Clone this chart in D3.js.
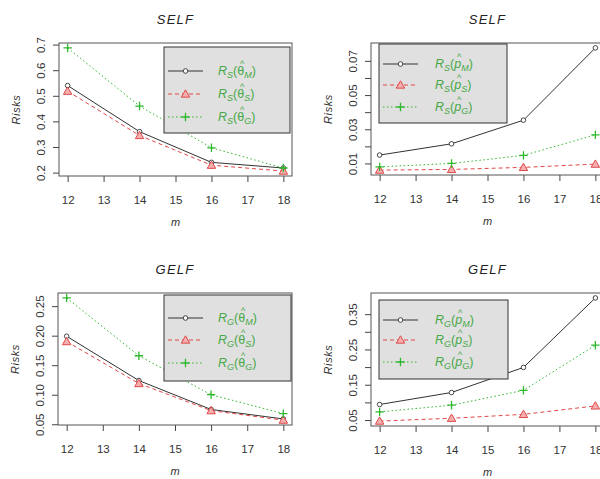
<!DOCTYPE html>
<head>
  <meta charset="utf-8">
  <script src="https://d3js.org/d3.v7.min.js"></script>
  <style>
    body { margin: 0; background: #fff; }
    svg { font-family: "Liberation Sans", Arial, sans-serif; }
    .tick text { fill: #333; font-size: 11.5px; }
    .tick line, .domain { stroke: #444; }
  </style>
</head>
<body>
  <svg width="600" height="479"></svg>
  <script>
    // m values on the x axis
    var mVals = [12, 14, 16, 18];
    var xTicks = [12, 13, 14, 15, 16, 17, 18];

    // SELF, theta estimators
    var selfThetaM = [0.540, 0.360, 0.240, 0.218];
    var selfThetaS = [0.518, 0.345, 0.229, 0.206];
    var selfThetaG = [0.687, 0.460, 0.297, 0.218];
    // SELF, p estimators
    var selfPM = [0.0149, 0.0215, 0.0353, 0.0776];
    var selfPS = [0.0061, 0.0065, 0.0077, 0.0096];
    var selfPG = [0.0080, 0.0100, 0.0147, 0.0267];
    // GELF, theta estimators
    var gelfThetaM = [0.199, 0.124, 0.075, 0.059];
    var gelfThetaS = [0.190, 0.119, 0.073, 0.057];
    var gelfThetaG = [0.264, 0.166, 0.100, 0.068];
    // GELF, p estimators
    var gelfPM = [0.094, 0.128, 0.199, 0.396];
    var gelfPS = [0.047, 0.055, 0.066, 0.090];
    var gelfPG = [0.073, 0.092, 0.134, 0.262];

    // y ticks and their labels (R drops some labels)
    var ticksSelfTheta = [0.2, 0.3, 0.4, 0.5, 0.6, 0.7];
    var labelsSelfTheta = ['0.2', '0.3', '0.4', '0.5', '0.6', '0.7'];
    var ticksSelfP = [0.01, 0.02, 0.03, 0.04, 0.05, 0.06, 0.07];
    var labelsSelfP = ['0.01', '', '0.03', '', '0.05', '', '0.07'];
    var ticksGelfTheta = [0.05, 0.10, 0.15, 0.20, 0.25];
    var labelsGelfTheta = ['0.05', '0.10', '0.15', '0.20', '0.25'];
    var ticksGelfP = [0.05, 0.10, 0.15, 0.20, 0.25, 0.30, 0.35];
    var labelsGelfP = ['0.05', '', '0.15', '', '0.25', '', '0.35'];

    var estimators = ['M', 'S', 'G'];

    var black = '#333', red = '#e04848', green = '#2eb82e', textGreen = '#46a846';

    var svg = d3.select('svg');
    svg.append('rect').attr('width', 600).attr('height', 479).attr('fill', '#fff');

    var panels = [
      {title: 'SELF', risk: 'S', sym: 'θ', series: [selfThetaM, selfThetaS, selfThetaG],
        ticks: ticksSelfTheta, labels: labelsSelfTheta,
        box: [59, 43, 233, 133], legend: [105, 4, 126, 86], rows: [24, 47, 70], tx: 54},
      {title: 'SELF', risk: 'S', sym: 'p', series: [selfPM, selfPS, selfPG],
        ticks: ticksSelfP, labels: labelsSelfP,
        box: [371, 43, 233, 132], legend: [8, 1, 128, 79], rows: [20, 41, 63], tx: 56},
      {title: 'GELF', risk: 'G', sym: 'θ', series: [gelfThetaM, gelfThetaS, gelfThetaG],
        ticks: ticksGelfTheta, labels: labelsGelfTheta,
        box: [58, 293, 234, 132], legend: [106, 2, 127, 86], rows: [23, 45, 68], tx: 54},
      {title: 'GELF', risk: 'G', sym: 'p', series: [gelfPM, gelfPS, gelfPG],
        ticks: ticksGelfP, labels: labelsGelfP,
        box: [371, 293, 233, 133], legend: [8, 7, 129, 79], rows: [20, 40, 62], tx: 56}
    ];

    var styles = [
      {color: black, dash: null, marker: 'circle'},
      {color: red, dash: '4,3', marker: 'triangle'},
      {color: green, dash: '1.5,2.5', marker: 'plus'}
    ];

    function drawMarker(g, type, x, y) {
      if (type === 'circle') {
        g.append('circle').attr('cx', x).attr('cy', y).attr('r', 2.3)
          .attr('fill', '#fff').attr('stroke', black).attr('stroke-width', 0.9);
      } else if (type === 'triangle') {
        var s = 4.2;
        g.append('path')
          .attr('d', 'M' + x + ',' + (y - s) + 'L' + (x + s) + ',' + (y + s * 0.75) +
            'L' + (x - s) + ',' + (y + s * 0.75) + 'Z')
          .attr('fill', '#f4b0b0').attr('stroke', red).attr('stroke-width', 1);
      } else {
        var p = 4.2;
        g.append('path')
          .attr('d', 'M' + (x - p) + ',' + y + 'H' + (x + p) + 'M' + x + ',' + (y - p) + 'V' + (y + p))
          .attr('stroke', green).attr('stroke-width', 1.3);
      }
    }

    panels.forEach(function(pn) {
      var bx = pn.box[0], by = pn.box[1], bw = pn.box[2], bh = pn.box[3];
      var g = svg.append('g').attr('transform', 'translate(' + [bx, by] + ')');

      // R style 4% extension of the ranges
      var all = d3.merge(pn.series);
      var ext = d3.extent(all), pad = (ext[1] - ext[0]) * 0.04;
      var x = d3.scaleLinear().domain([11.76, 18.24]).range([0, bw]);
      var y = d3.scaleLinear().domain([ext[0] - pad, ext[1] + pad]).range([bh, 0]);

      g.append('g').attr('transform', 'translate(0,' + bh + ')')
        .call(d3.axisBottom(x).tickValues(xTicks).tickSize(6).tickSizeOuter(0)
          .tickPadding(14).tickFormat(d3.format('d')));

      var ya = g.append('g')
        .call(d3.axisLeft(y).tickValues(pn.ticks).tickSize(6).tickSizeOuter(0)
          .tickFormat(function(d, i) { return pn.labels[i]; }));
      ya.selectAll('.tick text')
        .attr('transform', 'rotate(-90)')
        .attr('x', 0).attr('y', -14).attr('dy', 0)
        .style('text-anchor', 'middle');
      g.selectAll('.domain').remove();

      // series
      pn.series.forEach(function(vals, si) {
        var st = styles[si];
        var line = d3.line().x(function(d, i) { return x(mVals[i]); }).y(function(d) { return y(d); });
        g.append('path').datum(vals).attr('d', line)
          .attr('fill', 'none').attr('stroke', st.color).attr('stroke-width', 1)
          .attr('stroke-dasharray', st.dash);
        vals.forEach(function(v, i) { drawMarker(g, st.marker, x(mVals[i]), y(v)); });
      });

      g.append('rect').attr('width', bw).attr('height', bh)
        .attr('fill', 'none').attr('stroke', '#555').attr('stroke-width', 1);

      // legend
      var lg = g.append('g').attr('transform', 'translate(' + [pn.legend[0], pn.legend[1]] + ')');
      lg.append('rect').attr('width', pn.legend[2]).attr('height', pn.legend[3])
        .attr('fill', '#e0e0e0').attr('stroke', '#333').attr('stroke-width', 1);
      pn.rows.forEach(function(ry, si) {
        var st = styles[si];
        lg.append('line').attr('x1', 4).attr('x2', 39).attr('y1', ry).attr('y2', ry)
          .attr('stroke', st.color).attr('stroke-dasharray', st.dash);
        drawMarker(lg, st.marker, 21.5, ry);
        var t = lg.append('text').attr('x', pn.tx).attr('y', ry + 4)
          .attr('fill', textGreen).style('font-size', '12.5px');
        t.append('tspan').style('font-style', 'italic').text('R');
        t.append('tspan').style('font-style', 'italic').style('font-size', '9px').attr('dy', 2.5).text(pn.risk);
        t.append('tspan').attr('dy', -2.5).text('(');
        t.append('tspan').style('font-style', pn.sym === 'p' ? 'italic' : 'normal').text(pn.sym);
        t.append('tspan').style('font-style', 'italic').style('font-size', '9px').attr('dy', 2.5).text(estimators[si]);
        t.append('tspan').attr('dy', -2.5).text(')');
        var e = t.node().getExtentOfChar(3);
        lg.append('text').attr('x', e.x + e.width / 2 + 1.5).attr('y', e.y + 3)
          .attr('text-anchor', 'middle').attr('fill', textGreen).style('font-size', '9px').text('^');
      });

      // titles and axis labels
      g.append('text').attr('x', bw / 2).attr('y', -19).attr('text-anchor', 'middle')
        .style('font-size', '13px').style('font-style', 'italic').style('letter-spacing', '1.2px')
        .attr('fill', '#222').text(pn.title);
      g.append('text').attr('x', bw / 2).attr('y', bh + 50).attr('text-anchor', 'middle')
        .style('font-size', '11px').style('font-style', 'italic').attr('fill', '#333').text('m');
      g.append('text').attr('transform', 'translate(' + [-39, bh / 2] + ')rotate(-90)')
        .attr('text-anchor', 'middle').style('font-size', '11px').style('font-style', 'italic')
        .style('letter-spacing', '0.6px').attr('fill', '#333').text('Risks');
    });
  </script>
</body>
